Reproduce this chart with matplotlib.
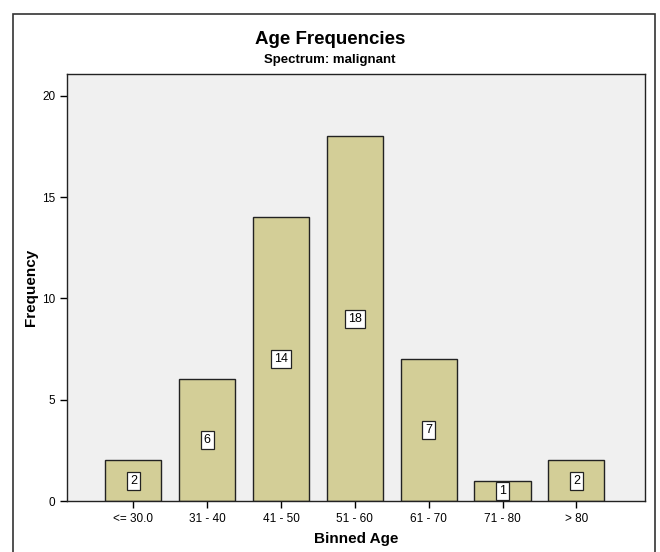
import matplotlib.pyplot as plt
from matplotlib.patches import Rectangle

# age bins and counts
bins = ['<= 30.0', '31 - 40', '41 - 50', '51 - 60', '61 - 70', '71 - 80', '> 80']
counts = [2, 6, 14, 18, 7, 1, 2]

plt.rcParams['font.family'] = ['Liberation Sans', 'DejaVu Sans']

fig = plt.figure(figsize=(6.6, 5.52), dpi=100)

# outer chart frame
fig.patches.append(Rectangle((13 / 660, -0.05), 642 / 660, 1.05 - 14 / 552,
                             transform=fig.transFigure, fill=False,
                             edgecolor='#333333', lw=1.2))

ax = fig.add_axes([67 / 660, 1 - 501 / 552, 578 / 660, 427 / 552])
ax.set_facecolor('#f0f0f0')

x = range(len(bins))
ax.bar(x, counts, width=0.76, color='#d3ce97', edgecolor='#222222', lw=1.0)

# value boxes in the middle of each bar
for xi, c in zip(x, counts):
    ax.text(xi, c / 2, str(c), ha='center', va='center', fontsize=9,
            bbox=dict(boxstyle='square,pad=0.25', fc='white', ec='#222222', lw=0.9))

ax.set_xlim(-0.9, 6.93)
ax.set_ylim(0, 21.08)
ax.set_xticks(list(x))
ax.set_xticklabels(bins, fontsize=8.5)
ax.set_yticks([0, 5, 10, 15, 20])
ax.tick_params(axis='both', direction='out', length=5, width=1, labelsize=8.5)
for s in ax.spines.values():
    s.set_linewidth(1.0)
    s.set_color('#222222')

ax.set_xlabel('Binned Age', fontsize=11, fontweight='bold', labelpad=5)
ax.set_ylabel('Frequency', fontsize=11, fontweight='bold', labelpad=3)

fig.text(0.5, 1 - 40 / 552, 'Age Frequencies', ha='center', va='center',
         fontsize=13.5, fontweight='bold')
fig.text(0.5, 1 - 60 / 552, 'Spectrum: malignant', ha='center', va='center',
         fontsize=9.5, fontweight='bold')

plt.savefig('out.png', dpi=100)
plt.close('all')
